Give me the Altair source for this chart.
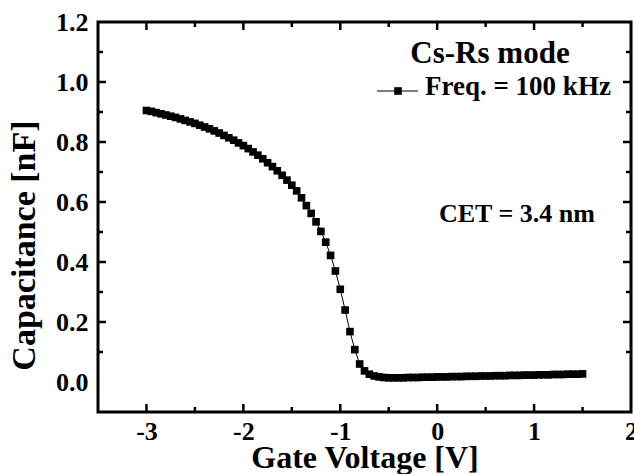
import altair as alt
import pandas as pd

# ---- data ----
voltage = [-3.00, -2.95, -2.90, -2.85, -2.80, -2.75, -2.70, -2.65, -2.60, -2.55,
           -2.50, -2.45, -2.40, -2.35, -2.30, -2.25, -2.20, -2.15, -2.10, -2.05,
           -2.00, -1.95, -1.90, -1.85, -1.80, -1.75, -1.70, -1.65, -1.60, -1.55,
           -1.50, -1.45, -1.40, -1.35, -1.30, -1.25, -1.20, -1.15, -1.10, -1.05,
           -1.00, -0.95, -0.90, -0.85, -0.80, -0.75, -0.70, -0.65, -0.60, -0.55,
           -0.50, -0.45, -0.40, -0.35, -0.30, -0.25, -0.20, -0.15, -0.10, -0.05,
           0.00, 0.05, 0.10, 0.15, 0.20, 0.25, 0.30, 0.35, 0.40, 0.45,
           0.50, 0.55, 0.60, 0.65, 0.70, 0.75, 0.80, 0.85, 0.90, 0.95,
           1.00, 1.05, 1.10, 1.15, 1.20, 1.25, 1.30, 1.35, 1.40, 1.45, 1.50]
capacitance = [0.905, 0.902, 0.898, 0.894, 0.890, 0.886, 0.882, 0.877, 0.872, 0.867,
               0.862, 0.856, 0.850, 0.844, 0.837, 0.830, 0.822, 0.814, 0.806, 0.797,
               0.788, 0.778, 0.767, 0.756, 0.744, 0.731, 0.718, 0.704, 0.689, 0.673,
               0.656, 0.637, 0.614, 0.588, 0.562, 0.534, 0.502, 0.466, 0.422, 0.370,
               0.309, 0.240, 0.168, 0.108, 0.060, 0.037, 0.026, 0.020, 0.017, 0.015,
               0.014, 0.014, 0.014, 0.014, 0.015, 0.015, 0.015, 0.016, 0.016, 0.016,
               0.017, 0.017, 0.017, 0.018, 0.018, 0.018, 0.019, 0.019, 0.019, 0.020,
               0.020, 0.020, 0.021, 0.021, 0.021, 0.022, 0.022, 0.022, 0.023, 0.023,
               0.023, 0.024, 0.024, 0.024, 0.025, 0.025, 0.025, 0.026, 0.026, 0.026, 0.027]

x_major = [-3, -2, -1, 0, 1, 2]
x_minor = [-2.5, -1.5, -0.5, 0.5, 1.5]
y_major = [0.0, 0.2, 0.4, 0.6, 0.8, 1.0, 1.2]
y_minor = [0.1, 0.3, 0.5, 0.7, 0.9, 1.1]

title_text = "Cs-Rs mode"
legend_text = "Freq. = 100 kHz"
cet_text = "CET = 3.4 nm"

W, H = 533, 390
FONT = "Liberation Serif"

df = pd.DataFrame({"V": voltage, "C": capacitance})
xs = alt.Scale(domain=[-3.5, 2.0], nice=False, zero=False)
ys = alt.Scale(domain=[-0.1, 1.2], nice=False, zero=False)

x_axis = alt.Axis(values=x_major, format="d", labelExpr="replace(datum.label, '\u2212', '-')",
                  ticks=False, tickSize=0, domain=False, grid=False,
                  labelFont=FONT, labelFontSize=26, labelFontWeight="bold", labelColor="black",
                  labelBaseline="alphabetic", labelPadding=27, labelFlush=False, labelOverlap=False,
                  title="Gate Voltage [V]", titleFont=FONT, titleFontSize=32, titleFontWeight="bold",
                  titleColor="black", titleBaseline="alphabetic", titleY=55)
y_axis = alt.Axis(values=y_major, format=".1f", ticks=False, tickSize=0, domain=False, grid=False,
                  labelFont=FONT, labelFontSize=26, labelFontWeight="bold", labelColor="black",
                  labelPadding=10, labelFlush=False, labelOverlap=False,
                  title="Capacitance [nF]", titleFont=FONT, titleFontSize=34, titleFontWeight="bold",
                  titleColor="black", titleBaseline="alphabetic", titleX=-64, titleY=223)

line = alt.Chart(df).mark_line(color="black", strokeWidth=1).encode(
    x=alt.X("V:Q", scale=xs, axis=x_axis),
    y=alt.Y("C:Q", scale=ys, axis=y_axis),
)
pts = alt.Chart(df).mark_point(shape="square", filled=True, color="black", size=58, opacity=1).encode(
    x=alt.X("V:Q", scale=xs, axis=x_axis),
    y=alt.Y("C:Q", scale=ys, axis=y_axis),
)

def xticks(vals, length):
    d = pd.DataFrame({"V": vals})
    b = alt.Chart(d).mark_rule(color="black", strokeWidth=2.5).encode(
        x=alt.X("V:Q", scale=xs, axis=x_axis), y=alt.value(H), y2=alt.value(H - length))
    t = alt.Chart(d).mark_rule(color="black", strokeWidth=2.5).encode(
        x=alt.X("V:Q", scale=xs, axis=x_axis), y=alt.value(0), y2=alt.value(length))
    return [b, t]

def yticks(vals, length):
    d = pd.DataFrame({"C": vals})
    l = alt.Chart(d).mark_rule(color="black", strokeWidth=2.5).encode(
        y=alt.Y("C:Q", scale=ys, axis=y_axis), x=alt.value(0), x2=alt.value(length))
    r = alt.Chart(d).mark_rule(color="black", strokeWidth=2.5).encode(
        y=alt.Y("C:Q", scale=ys, axis=y_axis), x=alt.value(W), x2=alt.value(W - length))
    return [l, r]

ticks = xticks(x_major[:-1], 8) + xticks(x_minor, 5) + yticks(y_major[1:-1], 8) + yticks(y_minor, 5)

ann = pd.DataFrame({"a": [0]})
t_title = alt.Chart(ann).mark_text(text=title_text, font=FONT, fontSize=31, fontWeight="bold",
                                   color="black", align="center", baseline="alphabetic").encode(
    x=alt.value(392), y=alt.value(41))
leg_line = alt.Chart(ann).mark_rule(color="black", strokeWidth=1).encode(
    x=alt.value(279), x2=alt.value(320), y=alt.value(69))
leg_pt = alt.Chart(ann).mark_point(shape="square", filled=True, color="black", size=58, opacity=1).encode(
    x=alt.value(300), y=alt.value(69))
t_leg = alt.Chart(ann).mark_text(text=legend_text, font=FONT, fontSize=27, fontWeight="bold",
                                 color="black", align="left", baseline="alphabetic").encode(
    x=alt.value(327), y=alt.value(73))
t_cet = alt.Chart(ann).mark_text(text=cet_text, font=FONT, fontSize=26, fontWeight="bold",
                                 color="black", align="left", baseline="alphabetic").encode(
    x=alt.value(341), y=alt.value(200))

chart = alt.layer(line, pts, *ticks, t_title, leg_line, leg_pt, t_leg, t_cet).properties(
    width=W, height=H,
    autosize=alt.AutoSizeParams(type="none"),
    padding={"left": 98, "top": 22, "right": 3, "bottom": 62},
    background="white",
).configure_view(stroke="black", strokeWidth=3)

chart.save("out.html", embed_options={"renderer": "svg", "actions": False})
